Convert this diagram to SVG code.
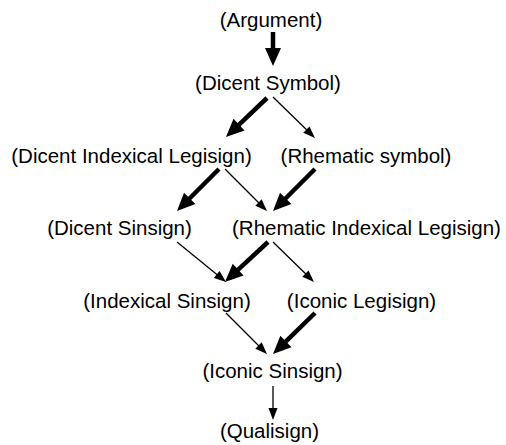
<svg xmlns="http://www.w3.org/2000/svg" width="506" height="445" viewBox="0 0 506 445">
<style>
text{font-family:"Liberation Sans",Arial,sans-serif;font-size:20.5px;fill:#000;text-anchor:middle}
.thick{stroke:#000;stroke-width:4.5;fill:none;marker-end:url(#hb)}
.thin{stroke:#000;stroke-width:1.3;fill:none;marker-end:url(#hs)}
</style>
<defs>
<marker id="hb" markerUnits="userSpaceOnUse" markerWidth="20" markerHeight="18" viewBox="0 -9 19 18" refX="1" refY="0" orient="auto"><path d="M0,-8 L18,0 L0,8 z" fill="#000"/></marker>
<marker id="hs" markerUnits="userSpaceOnUse" markerWidth="14" markerHeight="10" viewBox="0 -5 13 10" refX="1" refY="0" orient="auto"><path d="M0,-4.5 L12,0 L0,4.5 z" fill="#000"/></marker>
</defs>
<rect width="506" height="445" fill="#fff"/>
<g id="connectors">
<line class="thick" x1="273" y1="32" x2="273" y2="49"/>
<line class="thick" x1="267" y1="98" x2="238.3" y2="125.3"/>
<line class="thin" x1="273" y1="97" x2="307.1" y2="130.3"/>
<line class="thick" x1="219" y1="169" x2="189" y2="199"/>
<line class="thin" x1="225" y1="169" x2="259.2" y2="203.2"/>
<line class="thick" x1="315" y1="169" x2="285" y2="199"/>
<line class="thin" x1="177" y1="242" x2="217.5" y2="275"/>
<line class="thick" x1="268" y1="242" x2="237.4" y2="270.4"/>
<line class="thin" x1="273" y1="242" x2="306.1" y2="274.3"/>
<line class="thin" x1="226" y1="313" x2="259.2" y2="346.2"/>
<line class="thick" x1="315" y1="313" x2="285.2" y2="342.1"/>
<line class="thin" x1="273" y1="386" x2="273" y2="409"/>
</g>
<g id="argument"><text x="271" y="27">(Argument)</text></g>
<g id="dicent-symbol"><text x="268" y="90">(Dicent Symbol)</text></g>
<g id="dicent-indexical-legisign"><text x="131.5" y="163">(Dicent Indexical Legisign)</text></g>
<g id="rhematic-symbol"><text x="366" y="163">(Rhematic symbol)</text></g>
<g id="dicent-sinsign"><text x="119.5" y="235">(Dicent Sinsign)</text></g>
<g id="rhematic-indexical-legisign"><text x="366.5" y="235">(Rhematic Indexical Legisign)</text></g>
<g id="indexical-sinsign"><text x="167" y="308">(Indexical Sinsign)</text></g>
<g id="iconic-legisign"><text x="361.5" y="308">(Iconic Legisign)</text></g>
<g id="iconic-sinsign"><text x="272.5" y="378">(Iconic Sinsign)</text></g>
<g id="qualisign"><text x="269.5" y="438">(Qualisign)</text></g>
</svg>
